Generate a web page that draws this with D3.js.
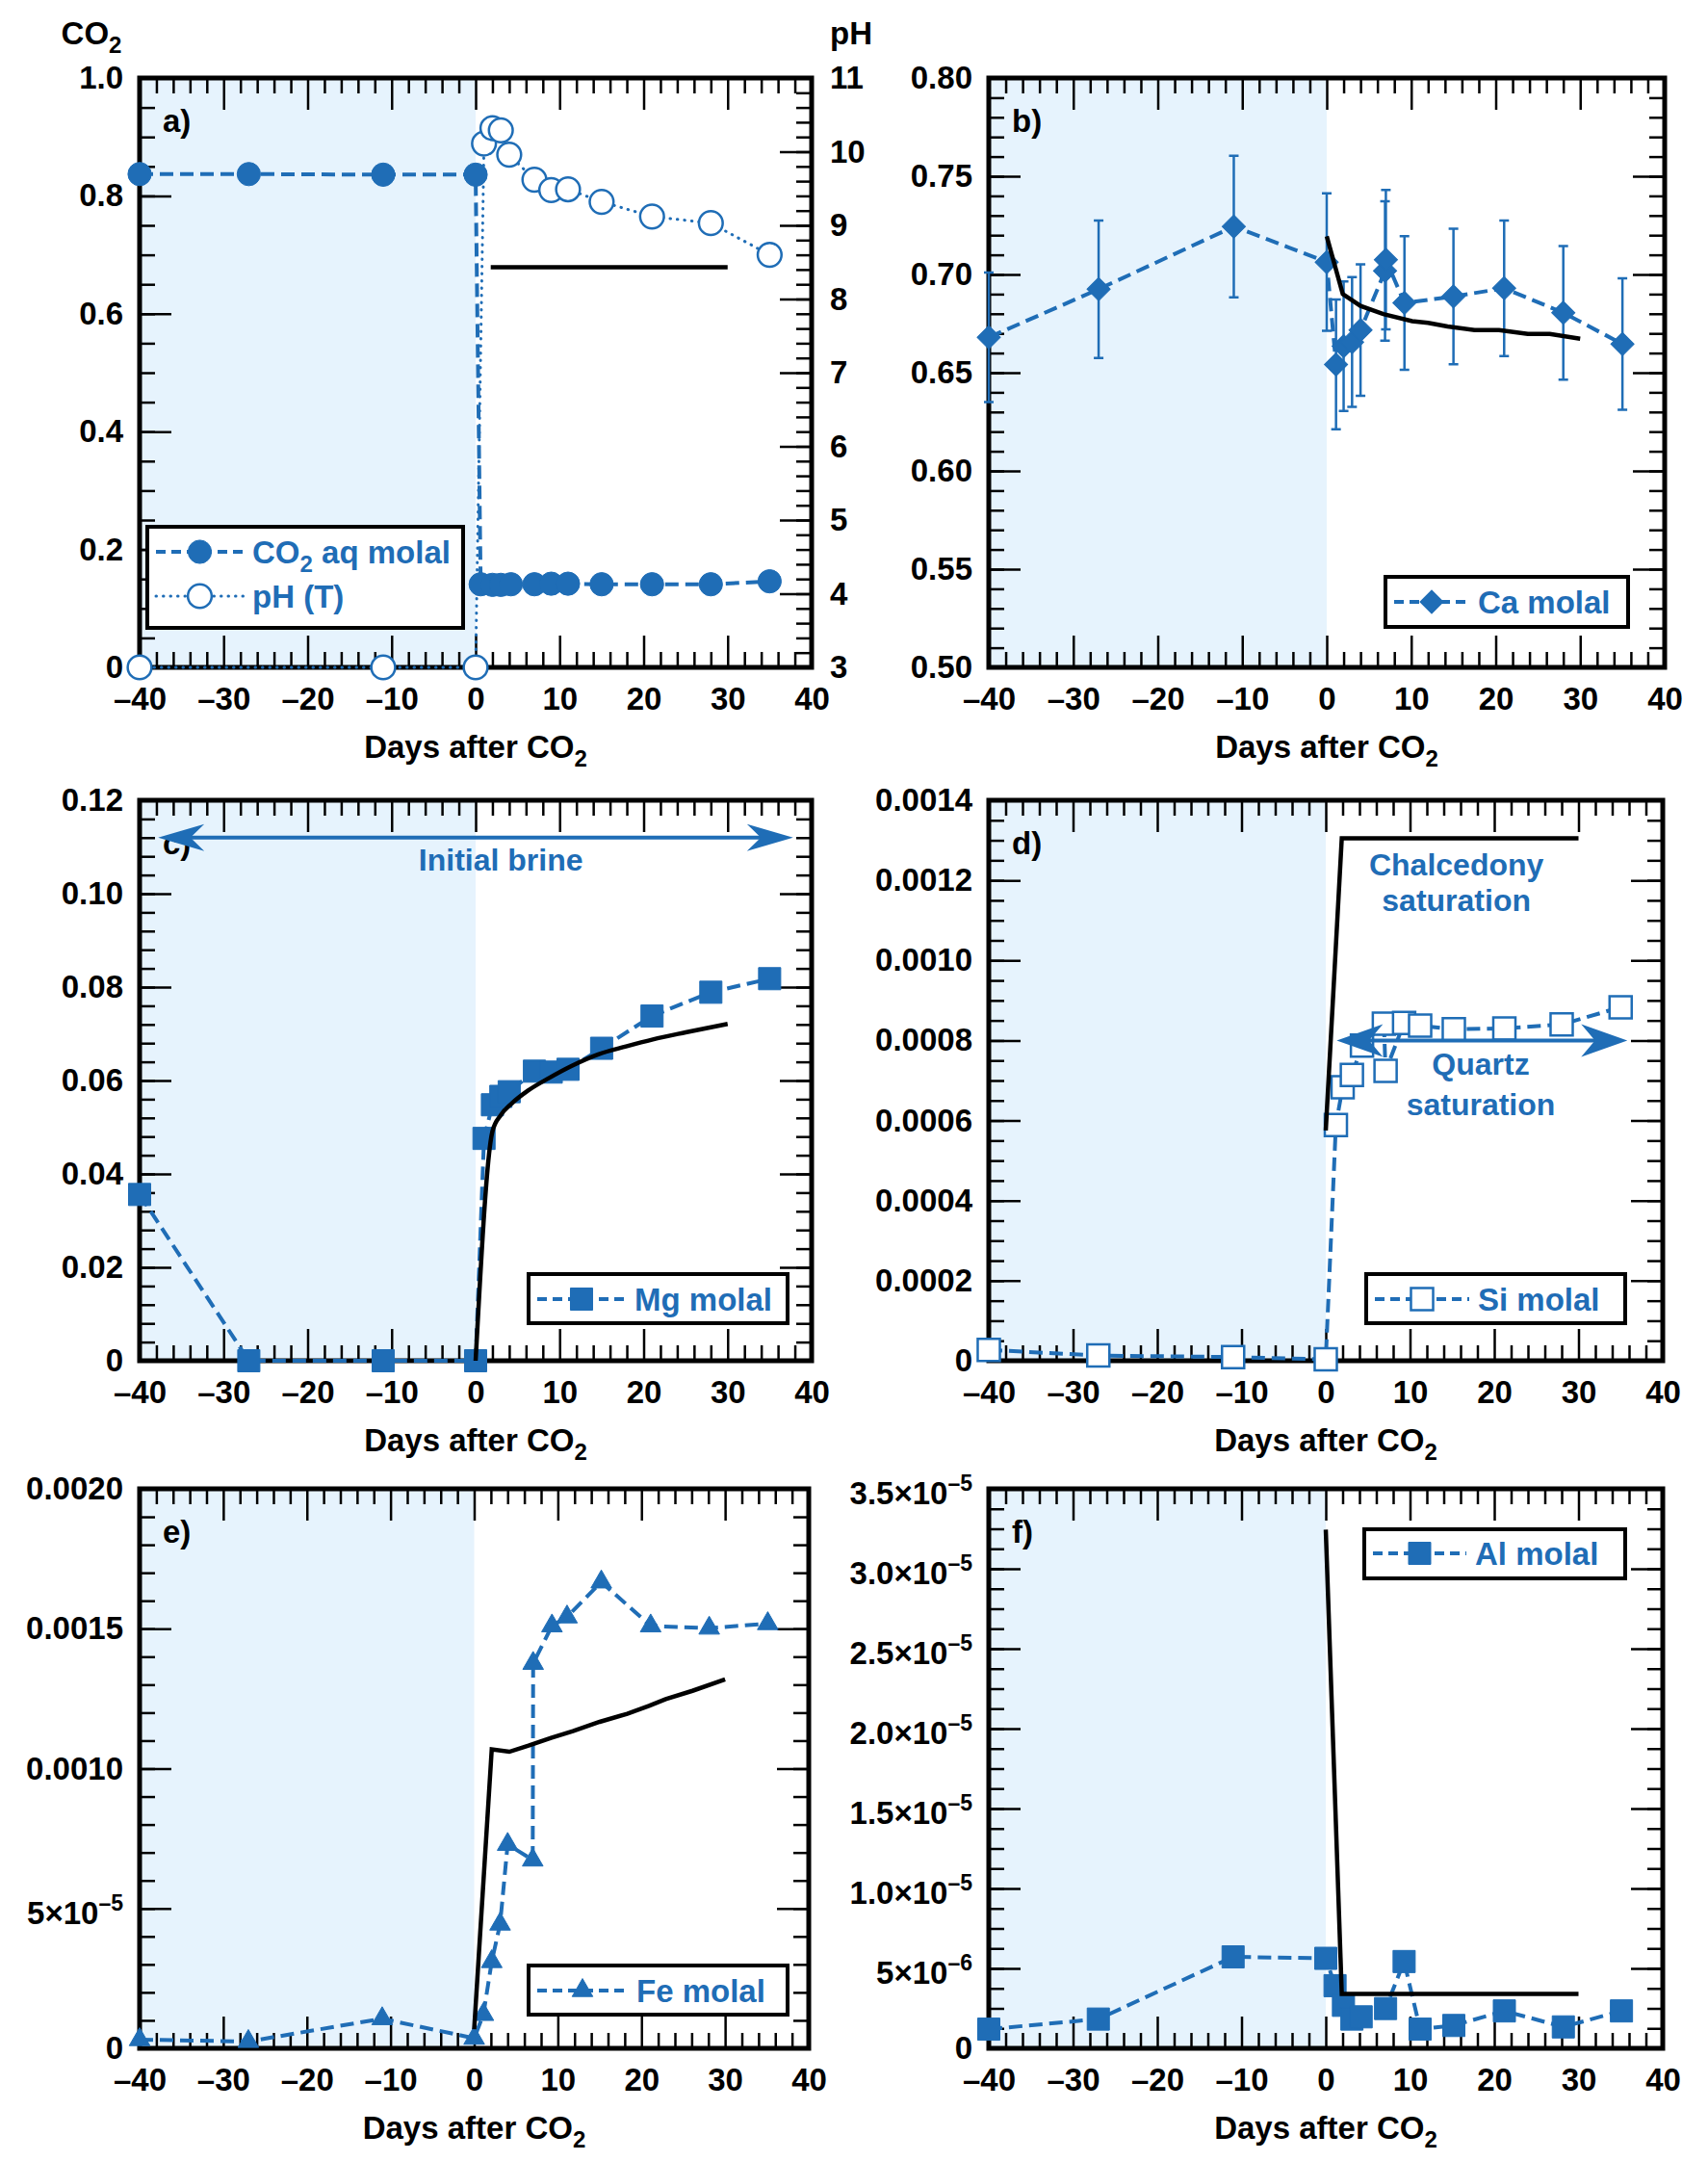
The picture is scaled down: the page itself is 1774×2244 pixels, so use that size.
<!DOCTYPE html>
<html>
<head>
<meta charset="utf-8">
<script src="https://cdn.jsdelivr.net/npm/d3@7"></script>
<style>
body { margin: 0; background: #fff; }
</style>
</head>
<body>
<svg id="chart" width="1774" height="2244"></svg>
<script>
var blue = "#1f6db6", shade = "#e6f3fd", font = "'Liberation Sans', Arial, sans-serif";

// shared x axis
var xMajor = [-40, -30, -20, -10, 0, 10, 20, 30, 40];
var xLabels = ["–40", "–30", "–20", "–10", "0", "10", "20", "30", "40"];

// a) CO2 aq and pH
var co2Days = [-40, -27, -11, 0, 0.6, 2, 3, 4.2, 7, 9, 11, 15, 21, 28, 35];
var co2Molal = [0.837, 0.837, 0.836, 0.836, 0.141, 0.140, 0.140, 0.141, 0.141, 0.142, 0.142, 0.141, 0.141, 0.141, 0.146];
var phDays = [-40, -11, 0, 1, 2, 3, 4, 7, 9, 11, 15, 21, 28, 35];
var phValues = [3, 3, 3, 10.11, 10.32, 10.29, 9.96, 9.62, 9.48, 9.49, 9.32, 9.12, 9.03, 8.6];
var co2ModelDays = [1.8, 30];
var co2Model = [0.679, 0.679];
var aTicks = [0, 0.2, 0.4, 0.6, 0.8, 1.0];
var aLabels = ["0", "0.2", "0.4", "0.6", "0.8", "1.0"];
var phTicks = [3, 4, 5, 6, 7, 8, 9, 10, 11];
var phLabels = ["3", "4", "5", "6", "7", "8", "9", "10", "11"];

// b) Ca
var caDays = [-40, -27, -11, 0, 1.1, 2, 3, 4, 6.9, 7, 9.2, 15, 21, 28, 35];
var caMolal = [0.668, 0.6925, 0.7244, 0.7063, 0.6542, 0.6635, 0.6656, 0.6717, 0.7018, 0.7075, 0.6855, 0.6888, 0.693, 0.6805, 0.6646];
var caErr = [0.033, 0.035, 0.036, 0.035, 0.033, 0.033, 0.033, 0.0335, 0.0355, 0.0355, 0.034, 0.0345, 0.0345, 0.034, 0.0335];
var caModelDays = [0, 1.9, 4, 6.7, 10.1, 12, 14.3, 17.5, 20.4, 23.8, 26.4, 30];
var caModel = [0.7194, 0.690, 0.684, 0.6798, 0.6762, 0.6754, 0.6735, 0.6717, 0.6717, 0.6697, 0.6697, 0.6673];
var bTicks = [0.50, 0.55, 0.60, 0.65, 0.70, 0.75, 0.80];
var bLabels = ["0.50", "0.55", "0.60", "0.65", "0.70", "0.75", "0.80"];

// c) Mg
var mgDays = [-40, -27, -11, 0, 1, 2, 3, 4, 7, 9, 11, 15, 21, 28, 35];
var mgMolal = [0.0356, 0, 0, 0, 0.0476, 0.0548, 0.0566, 0.0576, 0.062, 0.0618, 0.0624, 0.0669, 0.0738, 0.0789, 0.0818];
var mgModelDays = [0, 2, 3, 4.3, 6.2, 8.8, 11.4, 14.6, 17.9, 21.1, 25, 30];
var mgModel = [0, 0.0491, 0.0526, 0.0551, 0.0578, 0.0606, 0.0631, 0.0656, 0.0673, 0.0688, 0.0703, 0.0721];
var cTicks = [0, 0.02, 0.04, 0.06, 0.08, 0.10, 0.12];
var cLabels = ["0", "0.02", "0.04", "0.06", "0.08", "0.10", "0.12"];

// d) Si
var siDays = [-40, -27, -11, 0, 1.2, 2, 3.1, 4.3, 6.9, 7.1, 9.3, 11.2, 15.2, 21.2, 28, 35];
var siMolal = [0.000027, 0.000013, 0.0000092, 0.0000035, 0.000589, 0.000683, 0.000714, 0.000787, 0.000842, 0.000724, 0.000844, 0.000837, 0.000828, 0.00083, 0.00084, 0.000883];
var siModelDays = [0, 1.9, 30];
var siModel = [0.000575, 0.001305, 0.001305];
var dTicks = [0, 0.0002, 0.0004, 0.0006, 0.0008, 0.0010, 0.0012, 0.0014];
var dLabels = ["0", "0.0002", "0.0004", "0.0006", "0.0008", "0.0010", "0.0012", "0.0014"];

// e) Fe
var feDays = [-40, -27, -11, 0, 1.1, 2.1, 3.1, 4, 7, 7.05, 9.3, 11.1, 15.2, 21.1, 28.1, 35.1];
var feMolal = [0.000031, 0.0000245, 0.000106, 0.000036, 0.000121, 0.00031, 0.000444, 0.000729, 0.000673, 0.001376, 0.00151, 0.001542, 0.001667, 0.00151, 0.001502, 0.001518];
var feModelDays = [0, 2.1, 4.2, 6.5, 9.2, 11.8, 15, 18.3, 20.9, 22.9, 26.1, 30];
var feModel = [0.0000686, 0.001069, 0.00106, 0.001082, 0.00111, 0.001134, 0.001167, 0.001196, 0.001224, 0.001248, 0.001278, 0.001319];
var eTicks = [0, 0.0005, 0.0010, 0.0015, 0.0020];
var eLabels = ["0", "5×10^–5", "0.0010", "0.0015", "0.0020"];

// f) Al
var alDays = [-40, -27, -11, 0, 1.1, 2.1, 3.1, 4.2, 7.1, 9.3, 11.2, 15.2, 21.2, 28.2, 35.1];
var alMolal = [1.2e-6, 1.83e-6, 5.72e-6, 5.63e-6, 3.92e-6, 2.69e-6, 1.83e-6, 1.97e-6, 2.49e-6, 5.43e-6, 1.2e-6, 1.43e-6, 2.34e-6, 1.34e-6, 2.34e-6];
var alModelDays = [0, 1.9, 30];
var alModel = [3.245e-5, 3.4e-6, 3.4e-6];
var fTicks = [0, 5e-6, 1e-5, 1.5e-5, 2e-5, 2.5e-5, 3e-5, 3.5e-5];
var fLabels = ["0", "5×10^–6", "1.0×10^–5", "1.5×10^–5", "2.0×10^–5", "2.5×10^–5", "3.0×10^–5", "3.5×10^–5"];

var svg = d3.select("#chart");

// text with ^superscript or _subscript parts
function richText(sel, str) {
    sel.text(null);
    var parts = str.split(/([\^_])/);
    var mode = null;
    var hasExp = str.indexOf("^") >= 0;
    parts.forEach(function (s, k) {
        if (s == "^" || s == "_") { mode = s; return; }
        if (!s) return;
        if (mode == "^") {
            var e = s.match(/^(\S+)(.*)$/);
            sel.append("tspan").attr("dy", -14).attr("font-size", 23).text(e[1]);
            if (e[2]) sel.append("tspan").attr("dy", 14).text(e[2]);
        } else if (mode == "_") {
            var m = s.match(/^(\d+)(.*)$/);
            sel.append("tspan").attr("dy", 9).attr("font-size", 24).text(m[1]);
            if (m[2]) sel.append("tspan").attr("dy", -9).text(m[2]);
        } else {
            // labels with an exponent sit a little lower on their tick
            sel.append("tspan").attr("dy", hasExp && k == 0 ? 15.5 : null).text(s);
        }
        mode = null;
    });
}

function addAxis(g, axis, tx, ty, labels) {
    var a = g.append("g")
        .attr("transform", "translate(" + tx + "," + ty + ")")
        .call(axis);
    a.select(".domain").remove();
    a.attr("font-size", 33).attr("font-family", font).attr("font-weight", "bold");
    a.selectAll("line").attr("stroke-width", 2.5);
    if (labels) {
        a.selectAll("text").each(function (d, i) {
            richText(d3.select(this), labels[i]);
        });
    }
    return a;
}

function drawPanel(p) {
    var g = svg.append("g");
    var x = d3.scaleLinear().domain([-40, 40]).range([p.left, p.right]);
    var y = d3.scaleLinear().domain(p.yDomain).range([p.bottom, p.top]);

    g.append("rect")
        .attr("x", x(-40)).attr("y", p.top)
        .attr("width", x(0) - x(-40)).attr("height", p.bottom - p.top)
        .attr("fill", shade);

    var xMinor = d3.range(-40, 41, 2).filter(function (d) { return d % 10 != 0; });
    addAxis(g, d3.axisBottom(x).tickValues(xMajor).tickSize(-33).tickPadding(21).tickFormat(function (d, i) { return xLabels[i]; }), 0, p.bottom, xLabels);
    addAxis(g, d3.axisBottom(x).tickValues(xMinor).tickSize(-16).tickFormat(""), 0, p.bottom);
    addAxis(g, d3.axisTop(x).tickValues(xMajor).tickSize(-33).tickFormat(""), 0, p.top);
    addAxis(g, d3.axisTop(x).tickValues(xMinor).tickSize(-16).tickFormat(""), 0, p.top);

    var yMinor = d3.range(p.yDomain[0], p.yDomain[1] + p.minor / 2, p.minor);
    addAxis(g, d3.axisLeft(y).tickValues(p.ticks).tickSize(-33).tickPadding(17).tickFormat(function (d, i) { return p.labels[i]; }), p.left, 0, p.labels);
    addAxis(g, d3.axisLeft(y).tickValues(yMinor).tickSize(-16).tickFormat(""), p.left, 0);
    if (p.y2) {
        var y2 = d3.scaleLinear().domain(p.y2.domain).range([p.bottom, p.top]);
        var y2Minor = d3.range(p.y2.domain[0], p.y2.domain[1] + p.y2.minor / 2, p.y2.minor);
        addAxis(g, d3.axisRight(y2).tickValues(p.y2.ticks).tickSize(-33).tickPadding(19).tickFormat(function (d, i) { return p.y2.labels[i]; }), p.right, 0, p.y2.labels);
        addAxis(g, d3.axisRight(y2).tickValues(y2Minor).tickSize(-16).tickFormat(""), p.right, 0);
        p.y2scale = y2;
    } else {
        addAxis(g, d3.axisRight(y).tickValues(p.ticks).tickSize(-33).tickFormat(""), p.right, 0);
        addAxis(g, d3.axisRight(y).tickValues(yMinor).tickSize(-16).tickFormat(""), p.right, 0);
    }

    g.append("rect")
        .attr("x", p.left).attr("y", p.top)
        .attr("width", p.right - p.left).attr("height", p.bottom - p.top)
        .attr("fill", "none").attr("stroke", "#000").attr("stroke-width", 5);

    g.append("text")
        .attr("x", p.left + 24).attr("y", p.top + 56)
        .attr("font-family", font).attr("font-weight", "bold").attr("font-size", 33)
        .text(p.tag);

    var title = g.append("text")
        .attr("x", (p.left + p.right) / 2).attr("y", p.bottom + 94)
        .attr("text-anchor", "middle")
        .attr("font-family", font).attr("font-weight", "bold").attr("font-size", 33);
    richText(title, "Days after CO_2");

    return { g: g, x: x, y: y, y2: p.y2scale };
}

var symbols = {
    circle: { type: d3.symbolCircle, size: 460, fill: true },
    openCircle: { type: d3.symbolCircle, size: 480, fill: false },
    diamond: { type: d3.symbolSquare, size: 290, fill: true, rotate: 45 },
    square: { type: d3.symbolSquare, size: 530, fill: true },
    openSquare: { type: d3.symbolSquare, size: 530, fill: false },
    triangle: { type: d3.symbolTriangle, size: 200, fill: true }
};

function marker(g, cx, cy, shape) {
    var s = symbols[shape];
    g.append("path")
        .attr("d", d3.symbol().type(s.type).size(s.size)())
        .attr("transform", "translate(" + cx + "," + cy + ")" + (s.rotate ? " rotate(" + s.rotate + ")" : ""))
        .attr("fill", s.fill ? blue : "#fff")
        .attr("stroke", blue)
        .attr("stroke-width", s.fill ? 1 : 2.5);
}

function drawSeries(g, x, y, days, vals, shape, dash) {
    var pts = days.map(function (d, i) { return [x(d), y(vals[i])]; });
    g.append("path")
        .attr("d", d3.line()(pts))
        .attr("fill", "none").attr("stroke", blue).attr("stroke-width", dash == "dot" ? 3 : 4)
        .attr("stroke-linecap", dash == "dot" ? "round" : "butt")
        .attr("stroke-dasharray", dash == "dot" ? "0.5,7" : "14,7");
    g.selectAll(null).data(pts).enter().each(function (d) { marker(g, d[0], d[1], shape); });
}

function drawModel(g, x, y, days, vals, curve) {
    g.append("path")
        .attr("d", d3.line().curve(curve || d3.curveLinear)(days.map(function (d, i) { return [x(d), y(vals[i])]; })))
        .attr("fill", "none").attr("stroke", "#000").attr("stroke-width", 4.5);
}

function drawLegend(g, box, rows) {
    g.append("rect")
        .attr("x", box[0]).attr("y", box[1]).attr("width", box[2] - box[0]).attr("height", box[3] - box[1])
        .attr("fill", "#fff").attr("stroke", "#000").attr("stroke-width", 4);
    rows.forEach(function (r) {
        g.append("line")
            .attr("x1", box[0] + 9).attr("x2", r.textX - 9)
            .attr("y1", r.y).attr("y2", r.y)
            .attr("stroke", blue).attr("stroke-width", r.dash == "dot" ? 3 : 4)
            .attr("stroke-linecap", r.dash == "dot" ? "round" : "butt")
            .attr("stroke-dasharray", r.dash == "dot" ? "0.5,7" : "10,6");
        marker(g, (box[0] + 9 + r.textX - 9) / 2, r.y, r.shape);
        var t = g.append("text")
            .attr("x", r.textX).attr("y", r.y + 12)
            .attr("fill", blue)
            .attr("font-family", font).attr("font-weight", "bold").attr("font-size", 33);
        richText(t, r.text);
    });
}

function arrowHead(g, tipX, tipY, dir, len, half) {
    var bx = tipX - dir * len, nx = tipX - dir * len * 0.7;
    g.append("path")
        .attr("d", "M" + tipX + "," + tipY + "L" + bx + "," + (tipY - half) + "L" + nx + "," + tipY + "L" + bx + "," + (tipY + half) + "Z")
        .attr("fill", blue);
}

function doubleArrow(g, x1, x2, yv, len, half) {
    g.append("line")
        .attr("x1", x1 + len * 0.6).attr("x2", x2 - len * 0.6)
        .attr("y1", yv).attr("y2", yv)
        .attr("stroke", blue).attr("stroke-width", 4);
    arrowHead(g, x1, yv, -1, len, half);
    arrowHead(g, x2, yv, 1, len, half);
}

function blueText(g, px, py, str) {
    g.append("text")
        .attr("x", px).attr("y", py).attr("text-anchor", "middle")
        .attr("fill", blue)
        .attr("font-family", font).attr("font-weight", "bold").attr("font-size", 32)
        .text(str);
}

// ---- a) ----
var pa = drawPanel({
    left: 145, right: 843, top: 81, bottom: 693, tag: "a)",
    yDomain: [0, 1], ticks: aTicks, labels: aLabels, minor: 0.05,
    y2: { domain: [3, 11], ticks: phTicks, labels: phLabels, minor: 0.2 }
});
drawModel(pa.g, pa.x, pa.y, co2ModelDays, co2Model);
drawSeries(pa.g, pa.x, pa.y2, phDays, phValues, "openCircle", "dot");
drawSeries(pa.g, pa.x, pa.y, co2Days, co2Molal, "circle", "dash");
drawLegend(pa.g, [153, 547, 481, 652], [
    { y: 573, textX: 262, text: "CO_2 aq molal", shape: "circle", dash: "dash" },
    { y: 619, textX: 262, text: "pH (T)", shape: "openCircle", dash: "dot" }
]);
var co2Head = pa.g.append("text")
    .attr("x", 95).attr("y", 46).attr("text-anchor", "middle")
    .attr("font-family", font).attr("font-weight", "bold").attr("font-size", 33);
richText(co2Head, "CO_2");
pa.g.append("text")
    .attr("x", 862).attr("y", 46)
    .attr("font-family", font).attr("font-weight", "bold").attr("font-size", 33)
    .text("pH");

// ---- b) ----
var pb = drawPanel({
    left: 1027, right: 1729, top: 81, bottom: 693, tag: "b)",
    yDomain: [0.5, 0.8], ticks: bTicks, labels: bLabels, minor: 0.01
});
caDays.forEach(function (d, i) {
    var cx = pb.x(d), lo = pb.y(caMolal[i] - caErr[i]), hi = pb.y(caMolal[i] + caErr[i]);
    pb.g.append("path")
        .attr("d", "M" + cx + "," + lo + "V" + hi + "M" + (cx - 5) + "," + lo + "H" + (cx + 5) + "M" + (cx - 5) + "," + hi + "H" + (cx + 5))
        .attr("fill", "none").attr("stroke", blue).attr("stroke-width", 2.5);
});
drawSeries(pb.g, pb.x, pb.y, caDays, caMolal, "diamond", "dash");
drawModel(pb.g, pb.x, pb.y, caModelDays, caModel);
drawLegend(pb.g, [1439, 599, 1691, 651], [
    { y: 625, textX: 1535, text: "Ca molal", shape: "diamond", dash: "dash" }
]);

// ---- c) ----
var pc = drawPanel({
    left: 145, right: 843, top: 831, bottom: 1413, tag: "c)",
    yDomain: [0, 0.12], ticks: cTicks, labels: cLabels, minor: 0.004
});
drawSeries(pc.g, pc.x, pc.y, mgDays, mgMolal, "square", "dash");
drawModel(pc.g, pc.x, pc.y, mgModelDays, mgModel, d3.curveMonotoneX);
doubleArrow(pc.g, pc.x(-37.8), pc.x(37.8), pc.y(0.112), 48, 14);
blueText(pc.g, pc.x(3), pc.y(0.105), "Initial brine");
drawLegend(pc.g, [549, 1323, 818, 1374], [
    { y: 1349, textX: 659, text: "Mg molal", shape: "square", dash: "dash" }
]);

// ---- d) ----
var pd = drawPanel({
    left: 1027, right: 1727, top: 831, bottom: 1413, tag: "d)",
    yDomain: [0, 0.0014], ticks: dTicks, labels: dLabels, minor: 0.00005
});
drawSeries(pd.g, pd.x, pd.y, siDays, siMolal, "openSquare", "dash");
drawModel(pd.g, pd.x, pd.y, siModelDays, siModel);
doubleArrow(pd.g, pd.x(1.3), pd.x(35.8), pd.y(0.0008), 48, 17);
blueText(pd.g, pd.x(15.5), pd.y(0.001212), "Chalcedony");
blueText(pd.g, pd.x(15.5), pd.y(0.001124), "saturation");
blueText(pd.g, pd.x(18.4), pd.y(0.000714), "Quartz");
blueText(pd.g, pd.x(18.4), pd.y(0.000614), "saturation");
drawLegend(pd.g, [1419, 1323, 1688, 1374], [
    { y: 1349, textX: 1535, text: "Si molal", shape: "openSquare", dash: "dash" }
]);

// ---- e) ----
var pe = drawPanel({
    left: 145, right: 840, top: 1546, bottom: 2127, tag: "e)",
    yDomain: [0, 0.002], ticks: eTicks, labels: eLabels, minor: 0.0001
});
drawSeries(pe.g, pe.x, pe.y, feDays, feMolal, "triangle", "dash");
drawModel(pe.g, pe.x, pe.y, feModelDays, feModel);
drawLegend(pe.g, [549, 2041, 818, 2092], [
    { y: 2067, textX: 661, text: "Fe molal", shape: "triangle", dash: "dash" }
]);

// ---- f) ----
var pf = drawPanel({
    left: 1027, right: 1727, top: 1546, bottom: 2127, tag: "f)",
    yDomain: [0, 3.5e-5], ticks: fTicks, labels: fLabels, minor: 1.25e-6
});
drawSeries(pf.g, pf.x, pf.y, alDays, alMolal, "square", "dash");
drawModel(pf.g, pf.x, pf.y, alModelDays, alModel);
drawLegend(pf.g, [1417, 1588, 1688, 1639], [
    { y: 1613, textX: 1532, text: "Al molal", shape: "square", dash: "dash" }
]);
</script>
</body>
</html>
